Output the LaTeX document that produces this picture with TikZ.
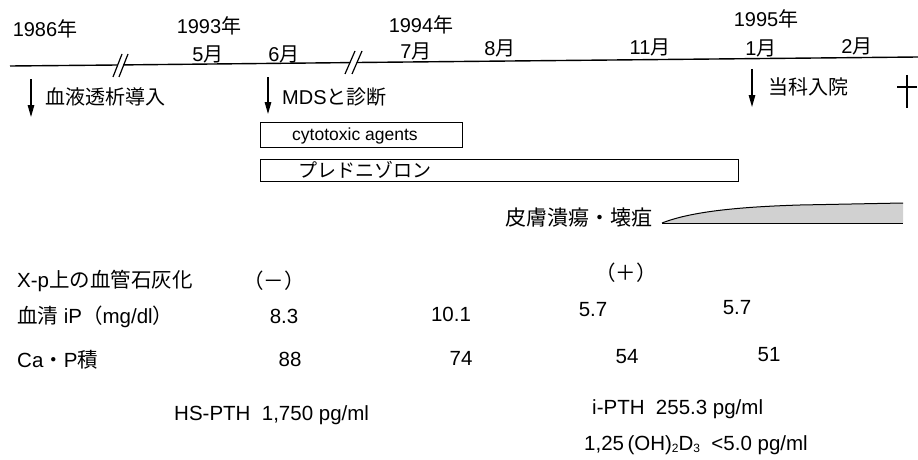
\documentclass[tikz,border=0pt]{standalone}
\usepackage{fontspec}
\setmainfont{Liberation Sans}
\newfontfamily\jp{Noto Sans CJK JP}
\usetikzlibrary{arrows.meta}
\begin{document}
\begin{tikzpicture}[x=1pt,y=-1pt,
  txt/.style={inner sep=0pt, font=\fontsize{20}{24}\selectfont},
  txtl/.style={inner sep=0pt, font=\fontsize{20.5}{24}\selectfont},
  arr/.style={line width=1.3pt, -{Triangle[length=12pt,width=6.5pt]}},
  boxline/.style={draw, line width=0.9pt, inner sep=0pt, anchor=north west},
  tl/.style={line width=1.4pt},
  brk/.style={line width=1.2pt}]
\useasboundingbox (0,0) rectangle (918,460);
% timeline
\coordinate (L0) at (10,66);
\coordinate (L1) at (117.5,65);
\coordinate (L2) at (123.5,64.9);
\coordinate (L3) at (350,62.6);
\coordinate (L4) at (357,62.5);
\coordinate (L5) at (918,57);
\draw[tl] (L0) -- (L1);
\draw[tl] (L2) -- (L3);
\draw[tl] (L4) -- (L5);
\draw[brk] (113,77) -- (122,54);
\draw[brk] (119,77) -- (128,54);
\draw[brk] (345,74) -- (355,51);
\draw[brk] (352,74) -- (362,51);
% years and months
\node[txt, anchor=base] (y86) at (45,37) {1986{\jp 年}};
\node[txt, anchor=base] (y93) at (209,34) {1993{\jp 年}};
\node[txt, anchor=base] (y94) at (421,33) {1994{\jp 年}};
\node[txt, anchor=base] (y95) at (766,27) {1995{\jp 年}};
\node[txt, anchor=base] (m5) at (208,62) {5{\jp 月}};
\node[txt, anchor=base] (m6) at (284,62) {6{\jp 月}};
\node[txt, anchor=base] (m7) at (416,59) {7{\jp 月}};
\node[txt, anchor=base] (m8) at (500,56) {8{\jp 月}};
\node[txt, anchor=base] (m11) at (650,55) {11{\jp 月}};
\node[txt, anchor=base] (m1) at (761,56) {1{\jp 月}};
\node[txt, anchor=base] (m2) at (857,54) {2{\jp 月}};
% event arrows
\coordinate (a1s) at (31,79);
\coordinate (a1e) at (31,117);
\draw[arr] (a1s) -- (a1e);
\node[txt, anchor=base west] (e1) at (45,104) {\jp 血液透析導入};
\coordinate (a2s) at (268,77);
\coordinate (a2e) at (268,114);
\draw[arr] (a2s) -- (a2e);
\node[txt, anchor=base west] (e2) at (282,104) {MDS{\jp と診断}};
\coordinate (a3s) at (752,69);
\coordinate (a3e) at (752,107);
\draw[arr] (a3s) -- (a3e);
\node[txt, anchor=base west] (e3) at (768,95) {\jp 当科入院};
% dagger
\coordinate (d1) at (907,75);
\coordinate (d2) at (907,108);
\coordinate (d3) at (897,87);
\coordinate (d4) at (917,87);
\draw[line width=1.3pt] (d1) -- (d2);
\draw[line width=1.3pt] (d3) -- (d4);
% treatment boxes
\node[boxline, minimum width=202pt, minimum height=25pt] (cyto) at (260,122) {};
\node[inner sep=0pt, font=\fontsize{17.5}{20}\selectfont, anchor=base west] (cytot) at (292,140) {cytotoxic agents};
\node[boxline, minimum width=478pt, minimum height=22pt] (pred) at (260,159) {};
\node[inner sep=0pt, font=\fontsize{19}{22}\selectfont, anchor=base west] (predt) at (298,177) {\jp プレドニゾロン};
% skin ulcer
\node[inner sep=0pt, font=\fontsize{21}{24}\selectfont, anchor=base west] (skin) at (505,225) {\jp 皮膚潰瘍・壊疽};
\fill[black!18] (662,223) .. controls (690,212) and (735,207) .. (800,205) -- (903,203) -- (903,223) -- cycle;
\draw[line width=1pt] (662,223) .. controls (690,212) and (735,207) .. (800,205) -- (903,203);
\draw[line width=1pt] (662,223) -- (903,223);
% data rows
\node[txtl, anchor=base west] (r1) at (17,287) {X-p{\jp 上の血管石灰化}};
\node[txtl, anchor=base] (r1a) at (274,288) {\jp （－）};
\node[txtl, anchor=base] (r1b) at (626,280) {\jp （＋）};
\node[txtl, anchor=base west] (r2) at (17,323) {{\jp 血清} iP{\jp （}mg/dl{\jp ）}};
\node[txtl, anchor=base] (r2a) at (284,323) {8.3};
\node[txtl, anchor=base] (r2b) at (451,321) {10.1};
\node[txtl, anchor=base] (r2c) at (593,316) {5.7};
\node[txtl, anchor=base] (r2d) at (737,314) {5.7};
\node[txtl, anchor=base west] (r3) at (17,367) {Ca{\jp ・}P{\jp 積}};
\node[txtl, anchor=base] (r3a) at (290,366) {88};
\node[txtl, anchor=base] (r3b) at (461,365) {74};
\node[txtl, anchor=base] (r3c) at (627,363) {54};
\node[txtl, anchor=base] (r3d) at (769,361) {51};
\node[txtl, anchor=base west] (hs) at (174,420) {HS-PTH\ \ 1,750 pg/ml};
\node[txtl, anchor=base west] (ip) at (592,414) {i-PTH\ \ 255.3 pg/ml};
\node[txtl, anchor=base west] (vd) at (584,450) {1,25\,(OH)\raisebox{-0.1em}{\fontsize{12}{12}\selectfont 2}D\raisebox{-0.1em}{\fontsize{12}{12}\selectfont 3}\ \ <5.0 pg/ml};
\end{tikzpicture}
\end{document}
